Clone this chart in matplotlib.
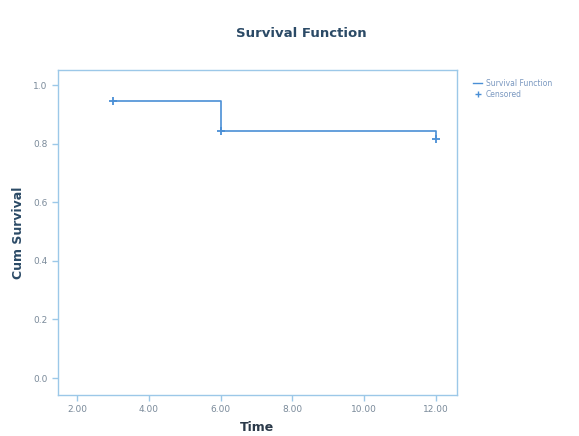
import matplotlib.pyplot as plt
from matplotlib.lines import Line2D

# Kaplan-Meier estimate
times = [3, 6, 12]
survival = [0.946, 0.844, 0.816]
cens_times = [3, 6, 12]
cens_surv = [0.946, 0.844, 0.816]

xticks = [2, 4, 6, 8, 10, 12]
yticks = [0.0, 0.2, 0.4, 0.6, 0.8, 1.0]

blue = '#4a8fd6'
frame = '#9cc8e8'

fig = plt.figure(figsize=(5.79, 4.36), dpi=100)
ax = fig.add_axes([0.100, 0.094, 0.689, 0.745])

ax.step(times, survival, where='post', color=blue, lw=1.2)
ax.plot(cens_times, cens_surv, '+', color=blue, ms=6, mew=1.3, ls='none')

ax.set_xlim(1.47, 12.58)
ax.set_ylim(-0.058, 1.051)
ax.set_xticks(xticks)
ax.set_xticklabels(['%.2f' % t for t in xticks])
ax.set_yticks(yticks)
ax.set_yticklabels(['%.1f' % t for t in yticks])
for s in ax.spines.values():
    s.set_color(frame)
    s.set_linewidth(1)
ax.tick_params(colors=frame, labelcolor='#7a8a9a', labelsize=6.5, length=4, width=1)

ax.set_xlabel('Time', fontsize=9, fontweight='bold', color='#2b3a4a', labelpad=5)
ax.set_ylabel('Cum Survival', fontsize=9, fontweight='bold', color='#2b4a66', labelpad=6)
fig.text(0.52, 0.915, 'Survival Function', ha='center', fontsize=9.5,
         fontweight='bold', color='#2b4a66')

handles = [Line2D([], [], color=blue, lw=1, drawstyle='steps-post'),
           Line2D([], [], color=blue, marker='+', ls='none', ms=5)]
fig.legend(handles, ['Survival Function', 'Censored'], loc='upper left',
           bbox_to_anchor=(0.805, 0.835), frameon=False, fontsize=5.5,
           labelcolor='#7a98c0', handlelength=1.2, handletextpad=0.5,
           labelspacing=0.3)

fig.savefig('out.png', dpi=100)
